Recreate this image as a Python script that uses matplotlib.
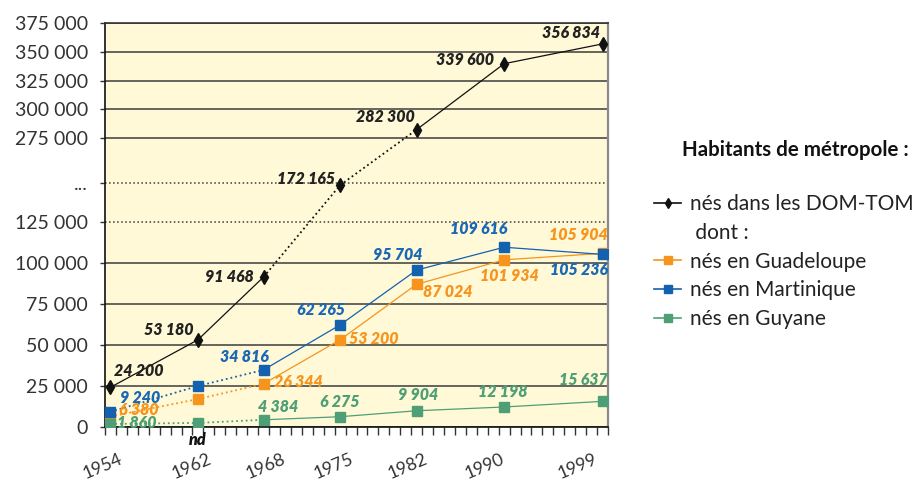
import matplotlib.pyplot as plt
import numpy as np
from matplotlib.lines import Line2D
from matplotlib.ticker import FixedLocator
from matplotlib.transforms import ScaledTranslation

plt.rcParams['font.family'] = ['Lato', 'DejaVu Sans']

# données (1962 : nd, points tracés sans étiquette)
annees = [1954, 1962, 1968, 1975, 1982, 1990, 1999]
dom_tom = [24200, 53180, 91468, 172165, 282300, 339600, 356834]
guadeloupe = [6380, 17000, 26344, 53200, 87024, 101934, 105904]
martinique = [9240, 25000, 34816, 62265, 95704, 109616, 105236]
guyane = [1860, 2500, 4384, 6275, 9904, 12198, 15637]

graduations = [0, 25000, 50000, 75000, 100000, 125000, 175000,
               275000, 300000, 325000, 350000, 375000]
etiquettes_y = ['0', '25 000', '50 000', '75 000', '100 000', '125 000', '...',
                '275 000', '300 000', '325 000', '350 000', '375 000']

# échelle coupée : valeurs -> hauteur
val_cassure = [0, 125000, 175000, 275000, 375000]
haut_cassure = [0, 205, 244, 289, 404]

def fwd(v):
    return np.interp(v, val_cassure, haut_cassure)

def inv(h):
    return np.interp(h, haut_cassure, val_cassure)

series = [
    ('nés dans les DOM-TOM', dom_tom, '#111111', 'd', [2, 3]),
    ('nés en Guadeloupe', guadeloupe, '#F7941D', 's', [0, 1]),
    ('nés en Martinique', martinique, '#1461B0', 's', [0, 1]),
    ('nés en Guyane', guyane, '#4E9F76', 's', [0, 1]),
]
couleur_txt = {'#111111': '#222222', '#F7941D': '#F7941D',
               '#1461B0': '#1A68B5', '#4E9F76': '#4E9F76'}

# décalages des étiquettes (px, y vers le bas) ; None = pas d'étiquette
decal = {
    'nés dans les DOM-TOM': [(28, -16), (-29, -10), (-34, 0), (-34, -6), (-31, -13), (-39, -4), (-32, -11)],
    'nés en Guadeloupe': [(28, -7), None, (35, -2), (34, -1), (31, 8), (5, 16), (-24, -18)],
    'nés en Martinique': [(30, -14), None, (-19, -13), (-19, -15), (-19, -15), (-25, -18), (-24, 16)],
    'nés en Guyane': [(26, -1), None, (15, -13), (0, -15), (1, -16), (-1, -15), (-19, -21)],
}
# décalage horizontal des années (px)
decal_annees = [-8, -6, 2, -6, -9, -20, -25]

fig = plt.figure(figsize=(9.16, 4.83), dpi=100)
ax = fig.add_axes([105 / 916, 56 / 483, 503 / 916, 404 / 483])
ax.set_facecolor('#FFF9D7')
ax.set_yscale('function', functions=(fwd, inv))
ax.set_ylim(0, 375000)
ax.set_xlim(1953.5, 1999.5)

for g in graduations:
    style = ':' if g in (125000, 175000) else '-'
    ax.axhline(g, color='#3c3c3c', lw=1.1, ls=style, zorder=1)

handles = []
for nom, vals, c, m, pointilles in series:
    ms = 7 if m == 'd' else 7.5
    for i in range(len(annees) - 1):
        ls = ':' if i in pointilles else '-'
        ax.plot(annees[i:i + 2], vals[i:i + 2], color=c, lw=0.9 if ls == '-' else 1.3,
                ls=ls, zorder=3)
    ax.plot(annees, vals, ls='none', marker=m, ms=ms, color=c, mec=c, zorder=4)
    for i, (x, v) in enumerate(zip(annees, vals)):
        d = decal[nom][i]
        if d is None:
            continue
        t = ax.annotate(f'{v:,}'.replace(',', ' '), (x, v),
                        xytext=(d[0] * 0.72, -d[1] * 0.72), textcoords='offset points',
                        ha='center', va='center', fontsize=11.5, fontweight='heavy',
                        style='italic', color=couleur_txt[c], zorder=5)
        t.set_clip_on(True)
    handles.append(Line2D([], [], color=c, lw=1.2, marker=m, ms=5 if m == 'd' else 5.5,
                          mec=c, label=nom))

# nd sous l'axe
ax.annotate('nd', (1962, 0), xytext=(0, -13 * 0.72), textcoords='offset points',
            ha='center', va='center', fontsize=11.5, fontweight='heavy', style='italic',
            color='#111111', annotation_clip=False)

ax.yaxis.set_major_locator(FixedLocator(graduations))
ax.set_yticklabels(etiquettes_y)
ax.tick_params(axis='y', length=3.6, width=1, color='#333333', labelsize=14,
               labelcolor='#333333', pad=8.5)
ax.set_xticks(annees)
ax.set_xticklabels([str(a) for a in annees], rotation=23, ha='center', va='center',
                   rotation_mode='anchor')
ax.tick_params(axis='x', which='major', length=0, pad=28.5, labelsize=12.8,
               labelcolor='#333333')
ax.xaxis.set_minor_locator(FixedLocator(np.arange(1953.5, 2000, 1)))
ax.tick_params(axis='x', which='minor', length=6, width=1, color='#333333')
for lab, dx in zip(ax.get_xticklabels(), decal_annees):
    lab.set_transform(lab.get_transform() + ScaledTranslation(dx / 100, 0, fig.dpi_scale_trans))

ax.spines['left'].set_color('#111111')
ax.spines['bottom'].set_color('#111111')
ax.spines['top'].set_color('#333333')
ax.spines['right'].set_color('#8a8a8a')
ax.spines['right'].set_linewidth(1.6)
for s in ('left', 'bottom', 'top'):
    ax.spines[s].set_linewidth(1.2)

# légende
dont = Line2D([], [], color='none', label=' dont :')
leg_handles = [handles[0], dont] + handles[1:]
fig.text(682 / 916, 1 - 150 / 483, 'Habitants de métropole :', fontsize=14.8,
         fontweight='bold', color='#111111', va='center', ha='left')
fig.legend(handles=leg_handles, loc='upper left', bbox_to_anchor=(654 / 916, 1 - 194 / 483),
           frameon=False, fontsize=15, handlelength=1.3, handletextpad=0.45,
           labelspacing=0.42, borderaxespad=0, borderpad=0, labelcolor='#222222')

fig.savefig('out.png', dpi=100)
